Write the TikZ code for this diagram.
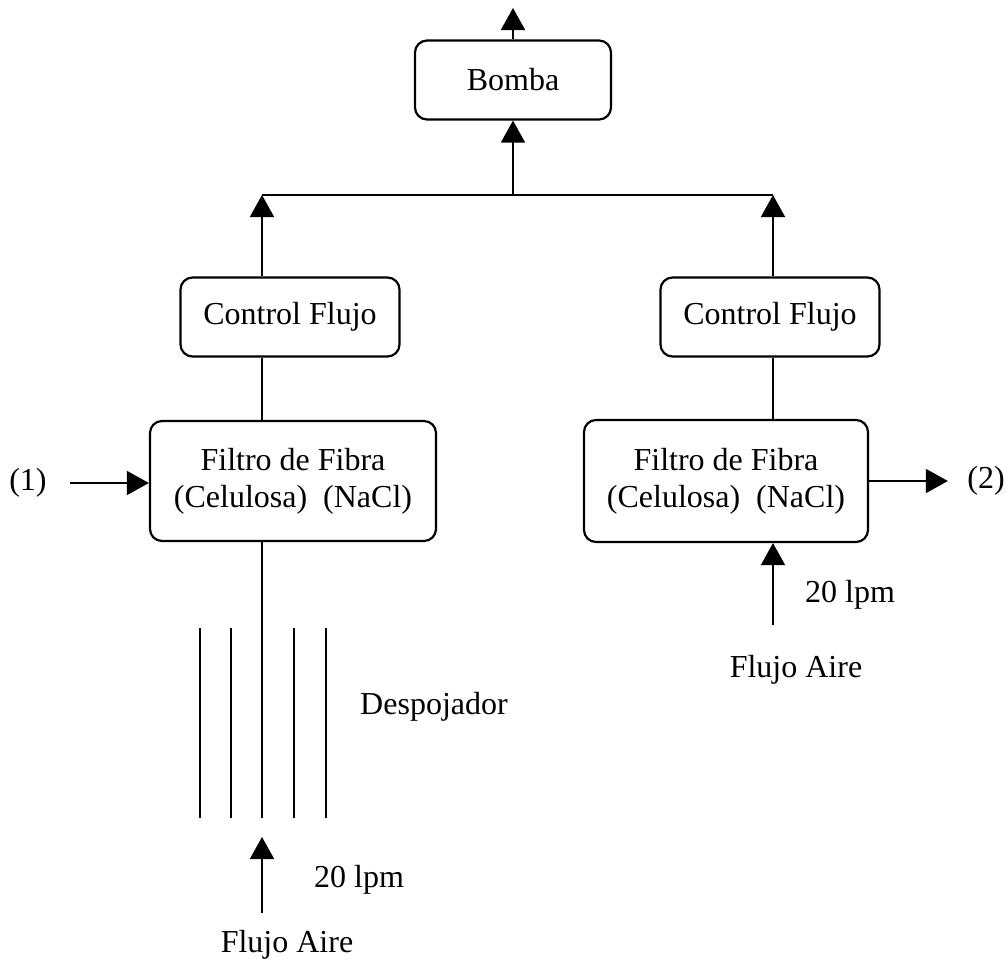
\documentclass[tikz,border=0pt]{standalone}
\usepackage{fontspec}
\setmainfont{Liberation Serif}
\usetikzlibrary{arrows.meta}

\begin{document}
\begin{tikzpicture}[x=0.5pt,y=-0.5pt,thick,>={Triangle[width=12pt,length=11pt]},
    box node/.style={rectangle,rounded corners=6pt,draw,line width=1.1pt,align=center,font=\fontsize{16}{18.5}\selectfont},
    text node/.style={font=\fontsize{16}{18.5}\selectfont}]
        \useasboundingbox (0,0) rectangle (1008,964);

        \node[box node, minimum width=98pt, minimum height=39.5pt] at (513, 80) (bomba) {Bomba};
        \node[box node, minimum width=109.5pt, minimum height=39.5pt] at (290, 317) (cfl) {Control Flujo};
        \node[box node, minimum width=109.5pt, minimum height=39.5pt] at (770, 317) (cfr) {Control Flujo};
        \node[box node, minimum width=143pt, minimum height=60pt] at (293, 481) (ffl) {\raisebox{2.5pt}{Filtro de Fibra}\\\raisebox{2.5pt}{(Celulosa)\ \ (NaCl)}};
        \node[box node, minimum width=142pt, minimum height=61pt] at (726, 481) (ffr) {\raisebox{2.5pt}{Filtro de Fibra}\\\raisebox{2.5pt}{(Celulosa)\ \ (NaCl)}};

        \node[text node] at (28, 483) (in1) {(1)};
        \node[text node] at (986, 481) (out2) {(2)};
        \node[text node] at (434, 707) (desp) {Despojador};
        \node[text node] at (359, 880) (lpml) {20 lpm};
        \node[text node] at (287, 945) (airel) {Flujo Aire};
        \node[text node] at (850, 595) (lpmr) {20 lpm};
        \node[text node] at (796, 670) (airer) {Flujo Aire};

        \coordinate (top) at (513, 8);
        \coordinate (jm) at (513, 195);
        \coordinate (jl) at (262, 195);
        \coordinate (jr) at (773, 195);
        \coordinate (dbot) at (262, 818);
        \coordinate (dtip) at (262, 837);
        \coordinate (srcl) at (262, 913);
        \coordinate (srcr) at (773, 625);

        \path
            (bomba.north) edge[->] (top)
            (jm) edge[->] (bomba.south)
            (jl) edge (jr)
            (cfl.north -| jl) edge[->] (jl)
            (cfr.north -| jr) edge[->] (jr)
            (cfl.south -| jl) edge (ffl.north -| jl)
            (cfr.south -| jr) edge (ffr.north -| jr)
            (in1.east) edge[->, shorten <=8pt] (ffl.west |- in1.east)
            (ffr.east) edge[->, shorten >=6pt] (out2.west)
            (srcr) edge[->] (ffr.south -| jr)
            (ffl.south -| jl) edge (dbot)
            (srcl) edge[->] (dtip)
            ;

        % despojador
        \foreach \x in {200, 231, 294, 326}
            \draw (\x, 628) -- (\x, 818);
\end{tikzpicture}
\end{document}
